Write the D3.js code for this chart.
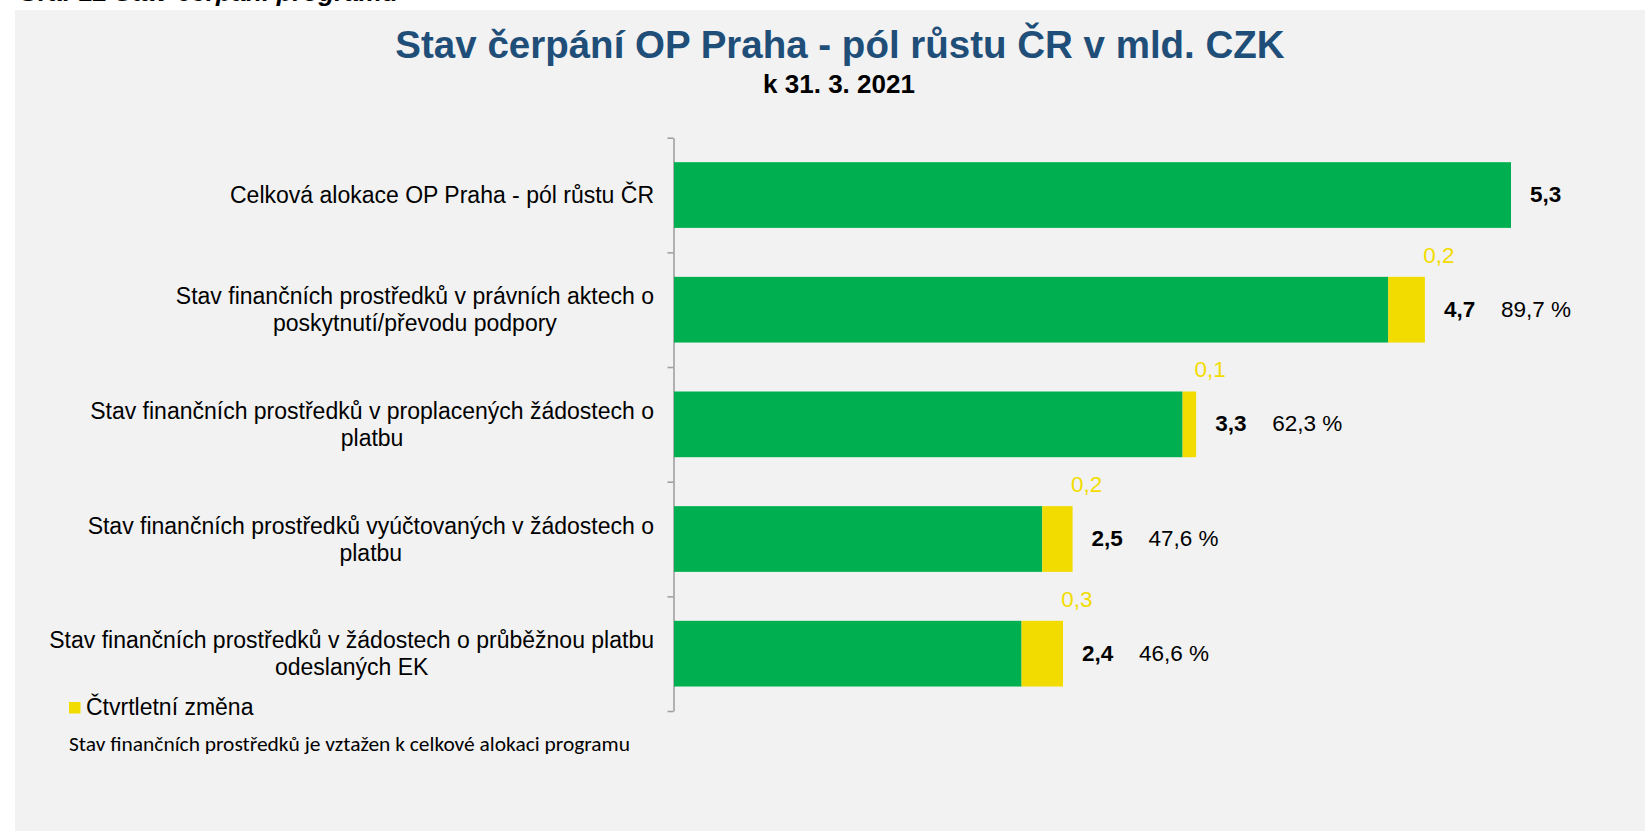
<!DOCTYPE html>
<html>
<head>
<meta charset="utf-8">
<script src="https://cdn.jsdelivr.net/npm/d3@7/dist/d3.min.js"></script>
<style>
  html, body { margin: 0; padding: 0; background: #ffffff; }
  svg { display: block; }
  text { font-family: "Liberation Sans", Arial, Helvetica, sans-serif; }
</style>
</head>
<body>
<svg id="chart" width="1645" height="831"></svg>
<script>
// ---- data ----
const categories = [
  "Celková alokace OP Praha - pól růstu ČR",
  "Stav finančních prostředků v právních aktech o\nposkytnutí/převodu podpory",
  "Stav finančních prostředků v proplacených žádostech o\nplatbu",
  "Stav finančních prostředků vyúčtovaných v žádostech o\nplatbu",
  "Stav finančních prostředků v žádostech o průběžnou platbu\nodeslaných EK"
];
const previousValues = [5.25, 4.48, 3.19, 2.31, 2.18];   // green (stav před čtvrtletím)
const quarterChange  = [0, 0.23, 0.085, 0.19, 0.26];     // yellow (čtvrtletní změna)
const totalLabels  = ["5,3", "4,7", "3,3", "2,5", "2,4"];
const changeLabels = ["", "0,2", "0,1", "0,2", "0,3"];
const shareLabels  = ["", "89,7 %", "62,3 %", "47,6 %", "46,6 %"];
const legendLabel = "Čtvrtletní změna";
const headerText = "Graf 12 Stav čerpání programu";
const titleText = "Stav čerpání OP Praha - pól růstu ČR v mld. CZK";
const subtitleText = "k 31. 3. 2021";
const footnoteText = "Stav finančních prostředků je vztažen k celkové alokaci programu";

// ---- styles ----
const GREEN = "#00b050", YELLOW = "#f2dc00", TITLE_BLUE = "#1f4e79", AXIS = "#a0a0a0";

const svg = d3.select("#chart");

// background panel
svg.append("rect").attr("x", 15).attr("y", 10).attr("width", 1630).attr("height", 821).attr("fill", "#f2f2f2");

// header (clipped at top, as in the source page)
svg.append("text").attr("x", 18).attr("y", 1)
  .attr("font-size", 26).attr("font-weight", "bold").attr("font-style", "italic")
  .attr("fill", "#000").text(headerText);

// titles
svg.append("text").attr("x", 840).attr("y", 58).attr("text-anchor", "middle")
  .attr("font-size", 38.5).attr("font-weight", "bold").attr("fill", TITLE_BLUE).text(titleText);
svg.append("text").attr("x", 839).attr("y", 93).attr("text-anchor", "middle")
  .attr("font-size", 26).attr("font-weight", "bold").attr("fill", "#000").text(subtitleText);

// scales
const n = categories.length;
const x = d3.scaleLinear().domain([0, 5.25]).range([674, 1511]);
const y = d3.scaleBand().domain(d3.range(n)).range([137.7, 711])
  .paddingInner(0.427).paddingOuter(0.2135);
const yBound = d3.scaleLinear().domain([0, n]).range([137.7, 711]);

// axis with ticks at category boundaries
const axisG = svg.append("g").attr("transform", `translate(${x(0) - 0.5},0)`)
  .call(d3.axisLeft(yBound).tickValues(d3.range(n + 1)).tickFormat("").tickSize(6).tickSizeOuter(0));
axisG.select(".domain").attr("stroke", AXIS).attr("stroke-width", 1.6);
axisG.selectAll(".tick line").attr("stroke", AXIS).attr("stroke-width", 1.6);

// bars
const rows = d3.range(n).map(i => ({
  i, prev: previousValues[i], change: quarterChange[i], total: previousValues[i] + quarterChange[i]
}));

svg.append("g").selectAll("rect").data(rows).join("rect")
  .attr("x", x(0)).attr("y", d => y(d.i))
  .attr("width", d => x(d.prev) - x(0)).attr("height", y.bandwidth())
  .attr("fill", GREEN);

svg.append("g").selectAll("rect").data(rows.filter(d => d.change > 0)).join("rect")
  .attr("x", d => x(d.prev)).attr("y", d => y(d.i))
  .attr("width", d => x(d.total) - x(d.prev)).attr("height", y.bandwidth())
  .attr("fill", YELLOW);

// value labels
const mid = d => y(d.i) + y.bandwidth() / 2;
svg.append("g").selectAll("text").data(rows).join("text")
  .attr("x", d => x(d.total) + 19).attr("y", d => mid(d) + 7)
  .attr("font-size", 22.5).attr("font-weight", "bold").attr("fill", "#000")
  .text(d => totalLabels[d.i]);

svg.append("g").selectAll("text").data(rows.filter(d => shareLabels[d.i])).join("text")
  .attr("x", d => x(d.total) + 76).attr("y", d => mid(d) + 7)
  .attr("font-size", 22.5).attr("fill", "#000")
  .text(d => shareLabels[d.i]);

svg.append("g").selectAll("text").data(rows.filter(d => changeLabels[d.i])).join("text")
  .attr("x", d => x(d.total) + 14).attr("y", d => y(d.i) - 14)
  .attr("text-anchor", "middle")
  .attr("font-size", 22.5).attr("fill", YELLOW)
  .text(d => changeLabels[d.i]);

// category labels: block right-aligned, lines centred
const labelRight = 654, lineH = 27;
rows.forEach(d => {
  const lines = categories[d.i].split("\n");
  const g = svg.append("g");
  const texts = lines.map((ln, k) => g.append("text")
    .attr("font-size", 23).attr("fill", "#000")
    .attr("y", mid(d) + 8 - (lines.length - 1) * lineH / 2 + k * lineH)
    .text(ln));
  const maxW = d3.max(texts, t => t.node().getComputedTextLength());
  texts.forEach(t => t.attr("x", labelRight - maxW / 2).attr("text-anchor", "middle"));
});

// legend
svg.append("rect").attr("x", 69).attr("y", 702).attr("width", 11.5).attr("height", 11.5).attr("fill", YELLOW);
svg.append("text").attr("x", 86).attr("y", 715).attr("font-size", 23).attr("fill", "#000").text(legendLabel);

// footnote
svg.append("text").attr("x", 69).attr("y", 751)
  .attr("font-size", 19.5).attr("fill", "#000")
  .style("font-family", "Carlito, Calibri, 'Open Sans', sans-serif")
  .attr("textLength", 561).attr("lengthAdjust", "spacingAndGlyphs")
  .text(footnoteText);
</script>
</body>
</html>
